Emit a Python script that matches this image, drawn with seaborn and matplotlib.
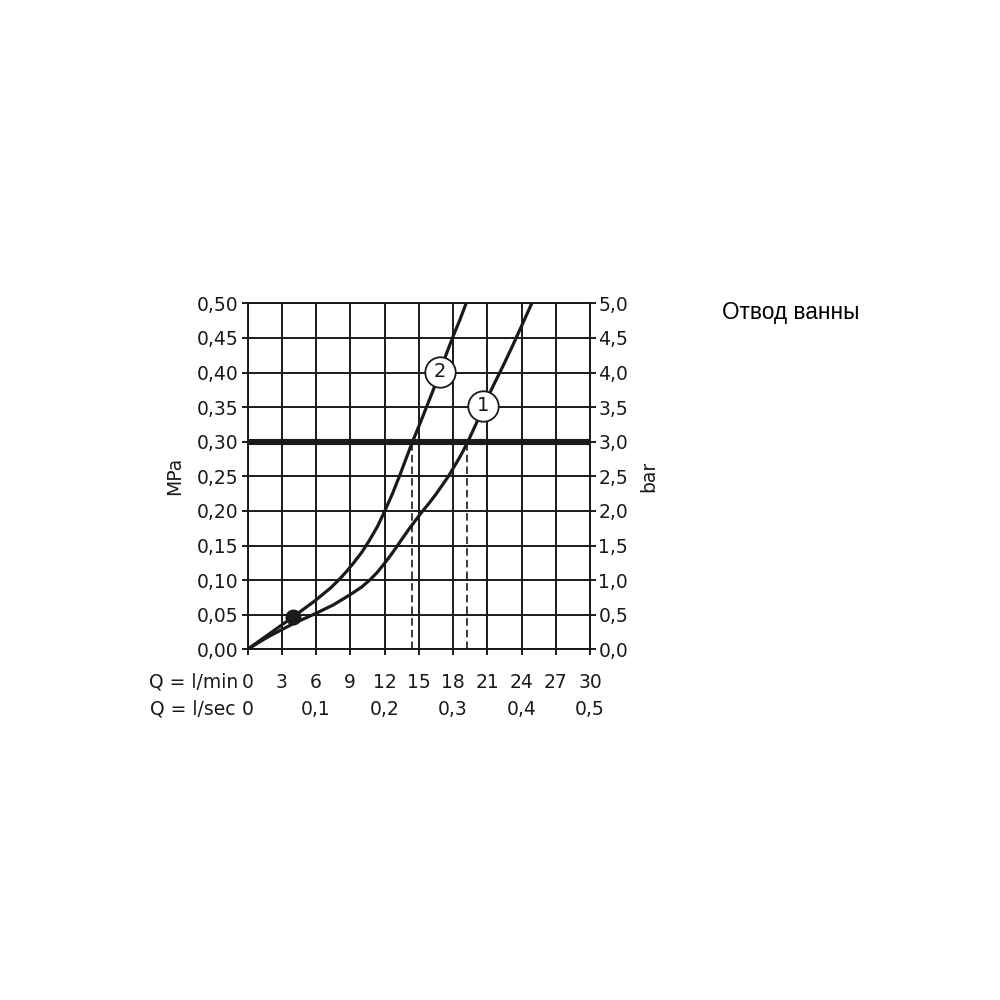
"""Pressure loss vs flow rate for a bath spout (Отвод ванны)."""

import matplotlib
matplotlib.use("Agg")
import matplotlib.pyplot as plt
import seaborn as sns

# axis ticks
flow_lmin = [0, 3, 6, 9, 12, 15, 18, 21, 24, 27, 30]
flow_lsec = [0, 0.1, 0.2, 0.3, 0.4, 0.5]
lsec_labels = ["0", "0,1", "0,2", "0,3", "0,4", "0,5"]
mpa_ticks = [0.0, 0.05, 0.10, 0.15, 0.20, 0.25, 0.30, 0.35, 0.40, 0.45, 0.50]
mpa_labels = ["0,00", "0,05", "0,10", "0,15", "0,20", "0,25",
              "0,30", "0,35", "0,40", "0,45", "0,50"]
bar_ticks = [0.0, 0.5, 1.0, 1.5, 2.0, 2.5, 3.0, 3.5, 4.0, 4.5, 5.0]
bar_labels = ["0,0", "0,5", "1,0", "1,5", "2,0", "2,5",
              "3,0", "3,5", "4,0", "4,5", "5,0"]

# curve 1 (l/min, MPa)
curve1_q = [0, 1.8, 4.0, 6.0, 7.5, 9.0, 10.0, 10.7, 11.3, 11.9, 12.5, 13.06, 13.6,
            14.2, 14.75, 15.3, 15.9, 16.5, 17.05, 17.6, 18.1, 18.5, 18.9, 19.3,
            20.0, 20.65, 21.5, 22.4, 23.2, 24.0, 24.9]
curve1_p = [0, 0.018, 0.037, 0.052, 0.064, 0.079, 0.09, 0.10, 0.11, 0.122, 0.135,
            0.148, 0.161, 0.175, 0.187, 0.199, 0.211, 0.224, 0.237, 0.25, 0.264,
            0.275, 0.287, 0.30, 0.325, 0.350, 0.380, 0.410, 0.438, 0.467, 0.50]

# curve 2
curve2_q = [0, 1.8, 4.0, 5.9, 7.3, 8.1, 8.7, 9.3, 10.0, 10.7, 11.4, 12.0, 12.7,
            13.35, 13.9, 14.45, 15.1, 15.7, 16.3, 16.86, 17.4, 18.0, 18.6, 19.15]
curve2_p = [0, 0.021, 0.047, 0.070, 0.089, 0.102, 0.113, 0.125, 0.14, 0.158, 0.178,
            0.199, 0.225, 0.252, 0.276, 0.30, 0.326, 0.351, 0.376, 0.401, 0.426,
            0.452, 0.476, 0.50]

# curve labels, operating point, 0.3 MPa reading
label_q = [20.65, 16.86]
label_p = [0.352, 0.401]
label_txt = ["1", "2"]
point_q = [4.0]
point_p = [0.047]
ref_p = 0.30
ref_q = [14.45, 19.2]

INK = "#1a1a1a"
FS = 13.5

sns.set_theme(style="white")
plt.rcParams["font.family"] = ["DejaVu Sans"]

fig = plt.figure(figsize=(10, 10), dpi=100)
ax = fig.add_axes([0.2475, 0.3507, 0.3425, 0.346])

line_kw = dict(sort=False, estimator=None, color=INK, lw=2.3, ax=ax, zorder=3,
               solid_joinstyle="round", solid_capstyle="round")
sns.lineplot(x=curve1_q, y=curve1_p, **line_kw)
sns.lineplot(x=curve2_q, y=curve2_p, **line_kw)

ax.axhline(ref_p, color=INK, lw=4.4, zorder=4)
ax.vlines(ref_q, 0, ref_p, colors=INK, lw=1.2, linestyles=(0, (4.5, 2.5)), zorder=2)

ax.scatter(point_q, point_p, s=110, color=INK, zorder=6)
ax.scatter(label_q, label_p, s=480, facecolor="white", edgecolor=INK, lw=1.3, zorder=6)
for q, p, t in zip(label_q, label_p, label_txt):
    ax.text(q, p, t, ha="center", va="center", fontsize=14, color=INK, zorder=7)

ax.set_xlim(0, 30)
ax.set_ylim(0, 0.5)
ax.set_xticks(flow_lmin)
ax.set_xticklabels([str(v) for v in flow_lmin])
ax.set_yticks(mpa_ticks)
ax.set_yticklabels(mpa_labels)
ax.grid(True, color=INK, lw=1.4)
ax.tick_params(axis="both", direction="out", length=4.5, width=1.4, color=INK,
               labelsize=FS, labelcolor=INK, bottom=True, left=True)
ax.tick_params(axis="x", pad=12.5)
ax.tick_params(axis="y", pad=2)
for s in ax.spines.values():
    s.set_color(INK)
    s.set_linewidth(1.4)
ax.set_ylabel("MPa", fontsize=FS, color=INK)
ax.yaxis.set_label_coords(-0.185, 0.5)

ax2 = ax.twinx()
ax2.set_ylim(0, 5)
ax2.set_yticks(bar_ticks)
ax2.set_yticklabels(bar_labels)
ax2.tick_params(axis="y", direction="out", length=4.5, width=1.4, color=INK,
                labelsize=FS, labelcolor=INK, right=True, pad=1.5)
ax2.grid(False)
for s in ax2.spines.values():
    s.set_visible(False)
ax2.set_ylabel("bar", fontsize=FS, color=INK, rotation=90, va="top")
ax2.yaxis.set_label_coords(1.143, 0.5)

sec = ax.secondary_xaxis("bottom", functions=(lambda q: q / 60, lambda s: s * 60))
sec.set_xticks(flow_lsec)
sec.set_xticklabels(lsec_labels)
sec.tick_params(length=0, pad=36.5, labelsize=FS, labelcolor=INK)
sec.spines["bottom"].set_visible(False)

ax.text(-0.028, -0.0936, "Q = l/min", transform=ax.transAxes, ha="right", va="center",
        fontsize=FS, color=INK)
ax.text(-0.036, -0.1725, "Q = l/sec", transform=ax.transAxes, ha="right", va="center",
        fontsize=FS, color=INK)

fig.text(0.722, 0.687, "Отвод ванны", ha="left", va="center", fontsize=16.3,
         family=["Liberation Sans", "DejaVu Sans"], color="black")

fig.savefig("out.png", dpi=100, facecolor="white")
